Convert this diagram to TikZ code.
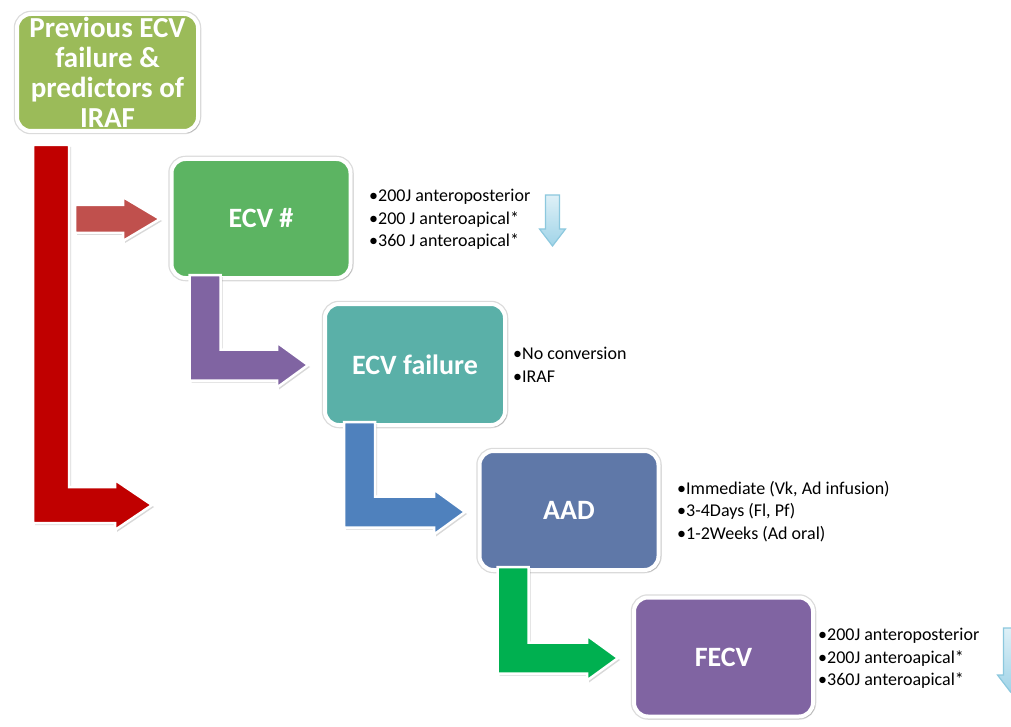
\documentclass[tikz,border=0pt]{standalone}
\usepackage{fontspec}
\setmainfont{Carlito}
\usetikzlibrary{calc,shadows}
\definecolor{cOlive}{RGB}{155,187,89}
\definecolor{cGreen}{RGB}{92,180,98}
\definecolor{cTeal}{RGB}{90,176,168}
\definecolor{cSlate}{RGB}{95,120,168}
\definecolor{cPurple}{RGB}{128,100,162}
\definecolor{cRedDark}{RGB}{192,0,0}
\definecolor{cRedLight}{RGB}{192,80,77}
\definecolor{cBlue}{RGB}{79,129,189}
\definecolor{cGreenArrow}{RGB}{0,176,80}
\definecolor{cSkyLine}{RGB}{140,200,222}
\definecolor{cSkyTop}{RGB}{222,240,247}
\definecolor{cSkyBot}{RGB}{160,212,232}
\tikzset{
  boxstyle/.style={draw=white, line width=4pt, rounded corners=14pt, text=white,
    font=\fontsize{28}{30}\selectfont\bfseries, align=center,
    minimum width=179pt, minimum height=119pt, inner sep=2pt,
    preaction={draw=black!14, line width=6.5pt},
    drop shadow={shadow xshift=2pt, shadow yshift=-2pt, opacity=0.35, fill=black!60}},
  arrowline/.style={draw=white, line width=2.5pt, line join=miter,
    drop shadow={shadow xshift=2pt, shadow yshift=-2pt, opacity=0.25, fill=black!60}},
  bullettext/.style={anchor=west, align=left, inner sep=0pt, text=black,
    font=\fontsize{18}{22.5}\selectfont},
  skyarrow/.style={draw=cSkyLine, line width=1.2pt, top color=cSkyTop, bottom color=cSkyBot}
}
\newcommand\LArrowX[3]{%
 \fill[#1,arrowline] let \p1=(#2), \p2=(#3), \n1={31}, \n2={22.5} in
 (\x1,\y1) -- (\x1+\n1*1pt,\y1) -- (\x1+\n1*1pt,\y2+0.5*\n1*1pt)
 -- (\x2-\n1*1pt,\y2+0.5*\n1*1pt) -- (\x2-\n1*1pt,\y2+\n2*1pt) -- (\x2,\y2)
 -- (\x2-\n1*1pt,\y2-\n2*1pt) -- (\x2-\n1*1pt,\y2-0.5*\n1*1pt)
 -- (\x1,\y2-0.5*\n1*1pt) -- cycle;}
\begin{document}
\begin{tikzpicture}[x=1pt,y=-1pt]
\clip (0,0) rectangle (1011,727);
\fill[white] (0,0) rectangle (1011,727);

\path
 node[boxstyle, fill=cOlive, minimum width=181pt, minimum height=117pt,
      font=\fontsize{29}{30}\selectfont\bfseries] (b0) at (107.5,72.5) {Previous ECV\\failure \&\\predictors of\\IRAF};

% coordinates
\coordinate (r0) at ($(b0.south west)+(18,12)$);
\coordinate (rt) at (152,505);
\coordinate (rs) at (75,219);
\coordinate (rst) at (160,219);

% big red L arrow
\fill[cRedDark,arrowline] let \p1=(r0), \p2=(rt) in
 (\x1,\y1) -- (\x1+36pt,\y1) -- (\x1+36pt,\y2+18pt) -- (\x2-37pt,\y2+18pt)
 -- (\x2-37pt,\y2+25pt) -- (\x2,\y2) -- (\x2-37pt,\y2-25pt) -- (\x2-37pt,\y2-18pt)
 -- (\x1,\y2-18pt) -- cycle;
% small red arrow
\fill[cRedLight,arrowline] let \p1=(rs), \p2=(rst) in
 (\x1,\y1+14pt) -- (\x2-37pt,\y1+14pt) -- (\x2-37pt,\y2+22pt) -- (\x2,\y2)
 -- (\x2-37pt,\y2-22pt) -- (\x2-37pt,\y1-14pt) -- (\x1,\y1-14pt) -- cycle;

\node[boxstyle, fill=cGreen] (b1) at (261,218.5) {ECV \#};

\coordinate (p1s) at ($(b1.south west)+(20,-5)$);
\coordinate (p1t) at (308,365);
\LArrowX{cPurple}{p1s}{p1t}
\node[boxstyle, fill=cTeal, minimum width=180pt, minimum height=121pt] (b2) at (415,364.5) {ECV failure};

\coordinate (p2s) at ($(b2.south west)+(21,-5)$);
\coordinate (p2t) at (465,512);
\LArrowX{cBlue}{p2s}{p2t}
\node[boxstyle, fill=cSlate] (b3) at (569,510.5) {AAD};

\coordinate (p3s) at ($(b3.south west)+(20,-5)$);
\coordinate (p3t) at (618,658);
\LArrowX{cGreenArrow}{p3s}{p3t}
\node[boxstyle, fill=cPurple] (b4) at (723.5,657) {FECV};

% bullet texts
\node[bullettext] (t1) at (369,219.5) {•200J anteroposterior\\•200 J anteroapical*\\•360 J anteroapical*};
\node[bullettext] (t2) at (513,365) {•No conversion\\•IRAF};
\node[bullettext] (t3) at (677,511.5) {•Immediate (Vk, Ad infusion)\\•3-4Days (Fl, Pf)\\•1-2Weeks (Ad oral)};
\node[bullettext] (t4) at (818,658.5) {•200J anteroposterior\\•200J anteroapical*\\•360J anteroapical*};

% light blue down arrows
\draw[skyarrow] (545.5,195) -- (559.5,195) -- (559.5,229) -- (565.5,229) -- (552.5,246)
 -- (539.5,229) -- (545.5,229) -- cycle;
\draw[skyarrow] (1003.5,628) -- (1017.5,628) -- (1017.5,675) -- (1023.5,675) -- (1010.5,692)
 -- (997.5,675) -- (1003.5,675) -- cycle;
\end{tikzpicture}
\end{document}
